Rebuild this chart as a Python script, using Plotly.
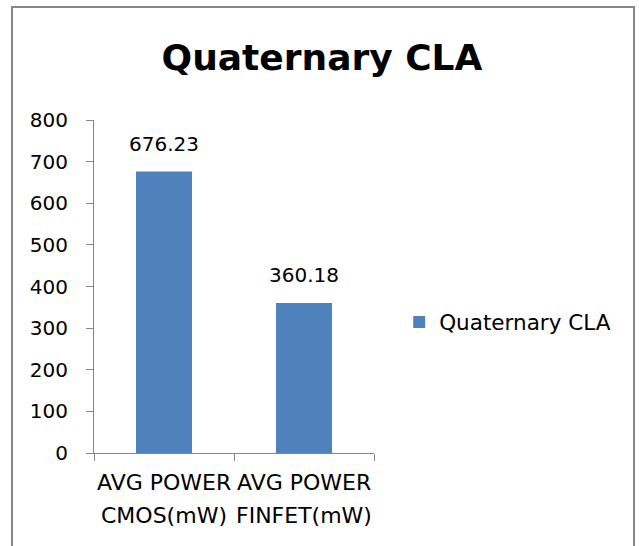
import plotly.graph_objects as go

# chart data
categories = ["AVG POWER CMOS(mW)", "AVG POWER FINFET(mW)"]
label_line1 = ["AVG POWER", "AVG POWER"]
label_line2 = ["CMOS(mW)", "FINFET(mW)"]
avg_power = [676.23, 360.18]
series_name = "Quaternary CLA"
y_ticks = [0, 100, 200, 300, 400, 500, 600, 700, 800]

FONT = "DejaVu Sans"
AXIS_GREY = "#868686"
BAR_BLUE = "#4F81BD"

fig = go.Figure()
fig.add_trace(go.Bar(x=categories, y=avg_power, name=series_name,
                     marker=dict(color=BAR_BLUE, line=dict(width=0)),
                     showlegend=True))

# value labels above the bars
for c, v in zip(categories, avg_power):
    fig.add_annotation(x=c, y=v, text=f"{v:.2f}", showarrow=False,
                       yanchor="bottom", yshift=14,
                       font=dict(family=FONT, size=20, color="black"))

# two-line category labels (wider line spacing than tick labels allow)
for c, l1, l2 in zip(categories, label_line1, label_line2):
    fig.add_annotation(x=c, y=-29 / 333, yref="paper", text=l1, showarrow=False,
                       yanchor="middle", font=dict(family=FONT, size=22, color="black"))
    fig.add_annotation(x=c, y=-62 / 333, yref="paper", text=l2, showarrow=False,
                       yanchor="middle", font=dict(family=FONT, size=22, color="black"))

fig.update_layout(
    width=639, height=546,
    margin=dict(l=94, r=265, t=120, b=93),
    paper_bgcolor="white", plot_bgcolor="white",
    bargap=0.6,
    font=dict(family=FONT, size=20, color="black"),
    title=dict(text="<b>Quaternary CLA</b>", x=322 / 639, xref="container",
               y=1 - 57 / 546, yref="container", xanchor="center", yanchor="middle",
               font=dict(family=FONT, size=36, color="black")),
    showlegend=True,
    legend=dict(x=1.09, y=0.393, xanchor="left", yanchor="middle",
                font=dict(family=FONT, size=21.5, color="black"),
                bgcolor="rgba(0,0,0,0)"),
)

fig.update_yaxes(range=[0, 800], tickvals=y_ticks, showgrid=False, zeroline=False,
                 showline=True, linecolor=AXIS_GREY, linewidth=1,
                 ticks="outside", ticklen=7, tickcolor=AXIS_GREY, ticklabelstandoff=14,
                 tickfont=dict(family=FONT, size=20, color="black"))
fig.update_xaxes(showgrid=False, showline=True, linecolor=AXIS_GREY, linewidth=1,
                 ticks="outside", ticklen=7, tickcolor=AXIS_GREY, tickson="boundaries",
                 showticklabels=False)

# chart area border
fig.add_shape(type="rect", xref="paper", yref="paper",
              x0=(12 - 94) / 280, x1=(634 - 94) / 280,
              y0=-0.5, y1=(453 - 7) / 333,
              line=dict(color=AXIS_GREY, width=2), layer="below")

# drop the default 8px body margin so the figure sits at the page corner
fig.write_html("out.html", config={"displayModeBar": False},
               post_script="document.body.style.margin='0';")
